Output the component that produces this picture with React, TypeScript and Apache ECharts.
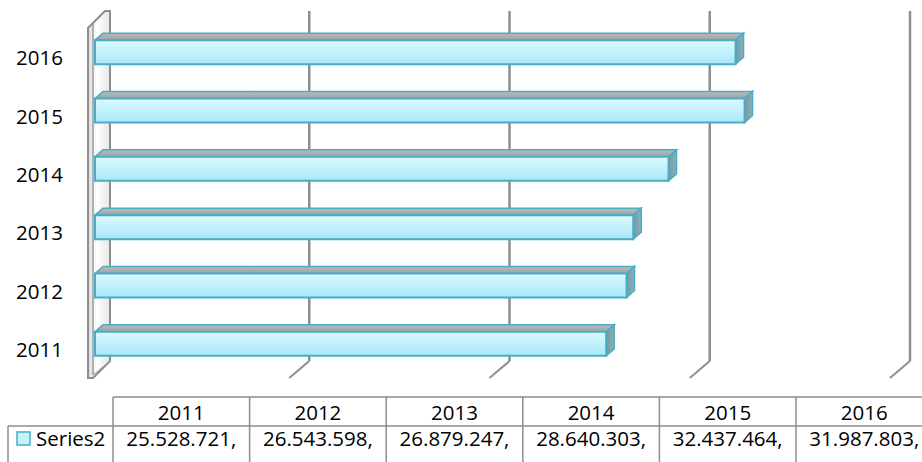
import React, { useEffect, useRef } from 'react';
import * as echarts from 'echarts';

// ---- data ----
const categories = ['2011', '2012', '2013', '2014', '2015', '2016'];
const seriesName = 'Series2';
const values = [25528721, 26543598, 26879247, 28640303, 32437464, 31987803];
const axisTicks = [0, 10000000, 20000000, 30000000, 40000000];

// ---- layout / style constants ----
const FONT = 'Open Sans';
const FS = 20.5;
const DEPTH_X = 20;
const DEPTH_Y = 17;
const BAR_OFF_X = 6;
const BAR_OFF_Y = 5;
const BAR_DX = 8;
const BAR_DY = 7;
const BAR_H = 24;
const GRID_COLOR = '#8e8e8e';
const BAR_STROKE = '#4bacc6';

const fmt = (n: number) => {
  const s = Math.round(n).toString();
  return s.replace(/\B(?=(\d{3})+(?!\d))/g, '.') + ',';
};

function buildTable() {
  const els: any[] = [];
  const left = 113;
  const colW = 136.6;
  const top = 397;
  const mid = 426;
  const bottom = 475;
  const lineStyle = { stroke: GRID_COLOR, lineWidth: 1.5 };
  els.push({ type: 'line', shape: { x1: left, y1: top, x2: 922, y2: top }, style: lineStyle });
  els.push({ type: 'line', shape: { x1: 8, y1: mid, x2: 922, y2: mid }, style: lineStyle });
  els.push({ type: 'line', shape: { x1: 8, y1: mid, x2: 8, y2: bottom }, style: lineStyle });
  for (let i = 0; i <= categories.length; i++) {
    const x = left + i * colW;
    els.push({ type: 'line', shape: { x1: x, y1: top, x2: x, y2: bottom }, style: lineStyle });
  }
  categories.forEach((c, i) => {
    const cx = left + i * colW + colW / 2;
    els.push({
      type: 'text',
      style: { text: c, x: cx, y: 412, align: 'center', verticalAlign: 'middle', fontFamily: FONT, fontSize: FS, fill: '#000' },
    });
    els.push({
      type: 'text',
      style: { text: fmt(values[i]), x: cx, y: 438, align: 'center', verticalAlign: 'middle', fontFamily: FONT, fontSize: FS, fill: '#000' },
    });
  });
  els.push({
    type: 'rect',
    shape: { x: 17, y: 432, width: 13, height: 13 },
    style: { fill: '#c6f2fc', stroke: BAR_STROKE, lineWidth: 1.5 },
  });
  els.push({
    type: 'text',
    style: { text: seriesName, x: 36, y: 438, align: 'left', verticalAlign: 'middle', fontFamily: FONT, fontSize: FS, fill: '#000' },
  });
  return els;
}

export default function App() {
  const ref = useRef<HTMLDivElement>(null);
  useEffect(() => {
    if (!ref.current) return;
    const chart = echarts.init(ref.current, null, { renderer: 'svg' });
    const option: any = {
      animation: false,
      backgroundColor: '#fff',
      grid: { left: 89, top: 28, width: 801, height: 350, containLabel: false },
      xAxis: {
        type: 'value',
        min: 0,
        max: 40000000,
        interval: 10000000,
        show: false,
        splitLine: { show: false },
      },
      yAxis: {
        type: 'category',
        data: categories,
        axisLine: { show: false },
        axisTick: { show: false },
        splitLine: { show: false },
        axisLabel: { margin: 26, fontFamily: FONT, fontSize: FS, color: '#000' },
      },
      series: [
        {
          type: 'custom',
          name: 'grid',
          z: 1,
          silent: true,
          data: axisTicks.map((v) => [v, 0]),
          renderItem: (params: any, api: any) => {
            const cs = params.coordSys;
            const v = api.value(0);
            const x = api.coord([v, 0])[0];
            const yb = cs.y + cs.height;
            const yt = cs.y;
            if (v === 0) {
              return {
                type: 'group',
                children: [
                  {
                    type: 'polygon',
                    shape: {
                      points: [
                        [x - 1, yt],
                        [x + DEPTH_X - 4, yt - DEPTH_Y],
                        [x + DEPTH_X + 1, yt - DEPTH_Y],
                        [x + DEPTH_X + 1, yb - DEPTH_Y],
                        [x + 4, yb],
                        [x - 1, yb],
                      ],
                    },
                    style: {
                      fill: new echarts.graphic.LinearGradient(0, 0, 1, 0, [
                        { offset: 0, color: '#d9d9d9' },
                        { offset: 0.4, color: '#ffffff' },
                        { offset: 1, color: '#e6e6e6' },
                      ]),
                      stroke: GRID_COLOR,
                      lineWidth: 2,
                    },
                  },
                  {
                    type: 'line',
                    shape: { x1: x + 4, y1: yt - 4, x2: x + 4, y2: yb - 3 },
                    style: { stroke: '#9a9a9a', lineWidth: 1.5 },
                  },
                  {
                    type: 'line',
                    shape: { x1: x + 4, y1: yb - 3, x2: x + DEPTH_X + 1, y2: yb - DEPTH_Y },
                    style: { stroke: '#9a9a9a', lineWidth: 1 },
                  },
                ],
              };
            }
            return {
              type: 'group',
              children: [
                {
                  type: 'line',
                  shape: { x1: x, y1: yb, x2: x + DEPTH_X, y2: yb - DEPTH_Y },
                  style: { stroke: GRID_COLOR, lineWidth: 2 },
                },
                {
                  type: 'line',
                  shape: { x1: x + DEPTH_X, y1: yb - DEPTH_Y, x2: x + DEPTH_X, y2: yt - DEPTH_Y },
                  style: { stroke: GRID_COLOR, lineWidth: 2.5 },
                },
              ],
            };
          },
        },
        {
          type: 'custom',
          name: seriesName,
          z: 2,
          data: values.map((v, i) => [v, i]),
          renderItem: (params: any, api: any) => {
            const idx = api.value(1);
            const p0 = api.coord([0, idx]);
            const p1 = api.coord([api.value(0), idx]);
            const x0 = p0[0] + BAR_OFF_X;
            const x1 = p1[0] + BAR_OFF_X;
            const yc = p0[1] - BAR_OFF_Y;
            const y0 = yc - BAR_H / 2;
            const y1 = yc + BAR_H / 2;
            return {
              type: 'group',
              children: [
                {
                  type: 'polygon',
                  shape: {
                    points: [
                      [x0, y0],
                      [x0 + BAR_DX, y0 - BAR_DY],
                      [x1 + BAR_DX, y0 - BAR_DY],
                      [x1, y0],
                    ],
                  },
                  style: {
                    fill: new echarts.graphic.LinearGradient(0, 0, 0, 1, [
                      { offset: 0, color: '#b9bcbd' },
                      { offset: 1, color: '#9ea2a4' },
                    ]),
                    stroke: BAR_STROKE,
                    lineWidth: 1.5,
                  },
                },
                {
                  type: 'polygon',
                  shape: {
                    points: [
                      [x1, y0],
                      [x1 + BAR_DX, y0 - BAR_DY],
                      [x1 + BAR_DX, y1 - BAR_DY],
                      [x1, y1],
                    ],
                  },
                  style: {
                    fill: new echarts.graphic.LinearGradient(0, 0, 1, 0, [
                      { offset: 0, color: '#6f9aa6' },
                      { offset: 1, color: '#8fb0b8' },
                    ]),
                    stroke: BAR_STROKE,
                    lineWidth: 1.5,
                  },
                },
                {
                  type: 'rect',
                  shape: { x: x0, y: y0, width: x1 - x0, height: BAR_H },
                  style: {
                    fill: new echarts.graphic.LinearGradient(0, 0, 0, 1, [
                      { offset: 0, color: '#dcf9ff' },
                      { offset: 1, color: '#a8e8f9' },
                    ]),
                    stroke: BAR_STROKE,
                    lineWidth: 2,
                  },
                },
              ],
            };
          },
        },
      ],
      graphic: buildTable(),
    };
    chart.setOption(option);
    return () => chart.dispose();
  }, []);
  return (
    <div
      ref={ref}
      style={{ position: 'fixed', left: 0, top: 0, width: 922, height: 462, background: '#fff' }}
    />
  );
}
